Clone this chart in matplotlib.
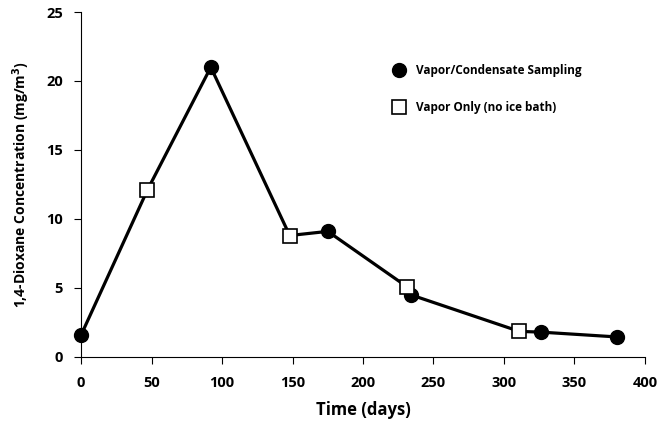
import numpy as np
import matplotlib
matplotlib.use('Agg')
import matplotlib.pyplot as plt
from matplotlib.lines import Line2D

plt.rcParams['font.family'] = ['Open Sans', 'DejaVu Sans']
plt.rcParams['font.weight'] = 'bold'

# all samples in time order (the line joins them)
time_all = [0, 47, 92, 148, 175, 231, 234, 311, 326, 380]
conc_all = [1.6, 12.1, 21.0, 8.8, 9.1, 5.1, 4.5, 1.85, 1.8, 1.45]

# vapor/condensate sampling
time_vc = [0, 92, 175, 234, 326, 380]
conc_vc = [1.6, 21.0, 9.1, 4.5, 1.8, 1.45]

# vapor only (no ice bath)
time_vo = [47, 148, 231, 311]
conc_vo = [12.1, 8.8, 5.1, 1.85]

fig = plt.figure(figsize=(6.6, 4.29), dpi=100)
ax = fig.add_axes([0.123, 0.168, 0.854, 0.804])

ax.plot(time_all, conc_all, c='k', lw=2.3, zorder=2, clip_on=False)
ax.plot(time_vc, conc_vc, 'o', c='k', ms=10, zorder=3, clip_on=False)
ax.plot(time_vo, conc_vo, 's', mfc='white', mec='k', mew=1.2, ms=9.5, zorder=4, clip_on=False)

ax.set_xlim(0, 400)
ax.set_ylim(0, 25)
ax.set_xticks(np.arange(0, 401, 50))
ax.set_yticks(np.arange(0, 26, 5))
for s in ['top', 'right']:
    ax.spines[s].set_visible(False)
ax.spines['left'].set_linewidth(0.8)
ax.spines['bottom'].set_linewidth(0.8)
ax.tick_params(direction='out', length=5, width=0.8, labelsize=10.5)
ax.tick_params(axis='x', pad=9)
ax.tick_params(axis='y', pad=8)
for lab in ax.get_xticklabels() + ax.get_yticklabels():
    lab.set_fontweight('bold')

ax.set_xlabel('Time (days)', fontsize=12, fontweight='bold', labelpad=8)
ax.set_ylabel(r'1,4-Dioxane Concentration (mg/m$^\mathbf{3}$)', fontsize=10,
              fontweight='bold', labelpad=10)

handles = [
    Line2D([], [], ls='none', marker='o', c='k', ms=10),
    Line2D([], [], ls='none', marker='s', mfc='white', mec='k', mew=1.2, ms=9.5),
]
leg = ax.legend(handles, ['Vapor/Condensate Sampling', 'Vapor Only (no ice bath)'],
                loc='upper left', bbox_to_anchor=(0.535, 0.88), frameon=False,
                prop={'size': 8.5, 'weight': 'bold'}, labelspacing=2.0,
                handletextpad=0.9, handlelength=1.0)

fig.savefig('out.png', dpi=100)
